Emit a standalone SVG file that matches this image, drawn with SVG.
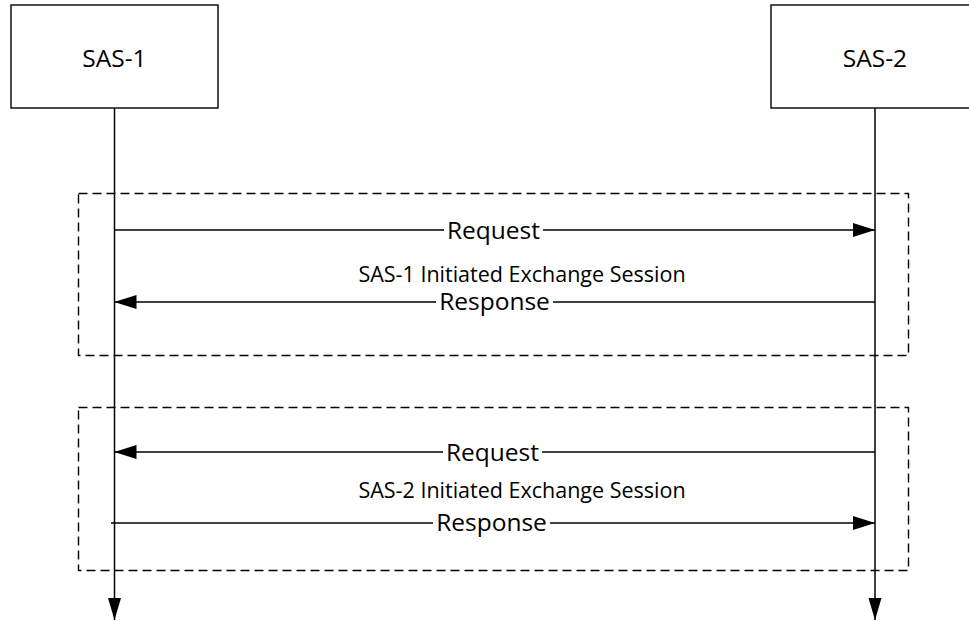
<svg xmlns="http://www.w3.org/2000/svg" width="969" height="621" viewBox="0 0 969 621">
<defs>
<marker id="ah" viewBox="0 0 22 14" refX="22" refY="7" markerWidth="22" markerHeight="14" markerUnits="userSpaceOnUse" orient="auto">
<path d="M0,0 L22,7 L0,14 Z" fill="#000"/>
</marker>
<marker id="ahd" viewBox="0 0 22 14" refX="22" refY="7" markerWidth="22" markerHeight="14" markerUnits="userSpaceOnUse" orient="auto">
<path d="M0,0.5 L22,7 L0,13.5 Z" fill="#000"/>
</marker>
<style>
.box{fill:#fff;stroke:#000;stroke-width:1.4}
.life{stroke:#000;stroke-width:1.5;fill:none}
.msg{stroke:#000;stroke-width:1.5;fill:none}
.frame{fill:none;stroke:#000;stroke-width:1.4;stroke-dasharray:9 5}
.lbl{font-family:"Open Sans","Liberation Sans",sans-serif;font-size:24.5px;fill:#000;text-anchor:middle}
.ttl{font-family:"Open Sans","Liberation Sans",sans-serif;font-size:21.5px;fill:#000;text-anchor:middle}
.bg{fill:#fff}
</style>
</defs>
<rect width="969" height="621" fill="#fff"/>
<g id="frame1"><rect class="frame" x="78.5" y="193.5" width="830" height="162"/></g>
<g id="frame2"><rect class="frame" x="78.5" y="407.5" width="830" height="163"/></g>
<g id="connectors">
<line class="life" x1="114.5" y1="108" x2="114.5" y2="620" marker-end="url(#ahd)"/>
<line class="life" x1="875" y1="108" x2="875" y2="620" marker-end="url(#ahd)"/>
<line class="msg" x1="114.5" y1="230" x2="875" y2="230" marker-end="url(#ah)"/>
<line class="msg" x1="875" y1="302" x2="114.5" y2="302" marker-end="url(#ah)"/>
<line class="msg" x1="875" y1="452" x2="114.5" y2="452" marker-end="url(#ah)"/>
<line class="msg" x1="111" y1="523" x2="875" y2="523" marker-end="url(#ah)"/>
<rect class="bg" x="444" y="218" width="99" height="24"/>
<text class="lbl" x="493.5" y="239">Request</text>
<rect class="bg" x="436" y="290" width="117" height="24"/>
<text class="lbl" x="494.5" y="310">Response</text>
<rect class="bg" x="443" y="440" width="99" height="24"/>
<text class="lbl" x="492.5" y="461">Request</text>
<rect class="bg" x="433" y="511" width="117" height="24"/>
<text class="lbl" x="491.5" y="531">Response</text>
<text class="ttl" x="522" y="282">SAS-1 Initiated Exchange Session</text>
<text class="ttl" x="522" y="498">SAS-2 Initiated Exchange Session</text>
</g>
<g id="sas1"><rect class="box" x="11" y="5" width="207" height="103"/><text class="lbl" x="114.5" y="67">SAS-1</text></g>
<g id="sas2"><rect class="box" x="771" y="5" width="208" height="103"/><text class="lbl" x="875" y="67">SAS-2</text></g>
</svg>
